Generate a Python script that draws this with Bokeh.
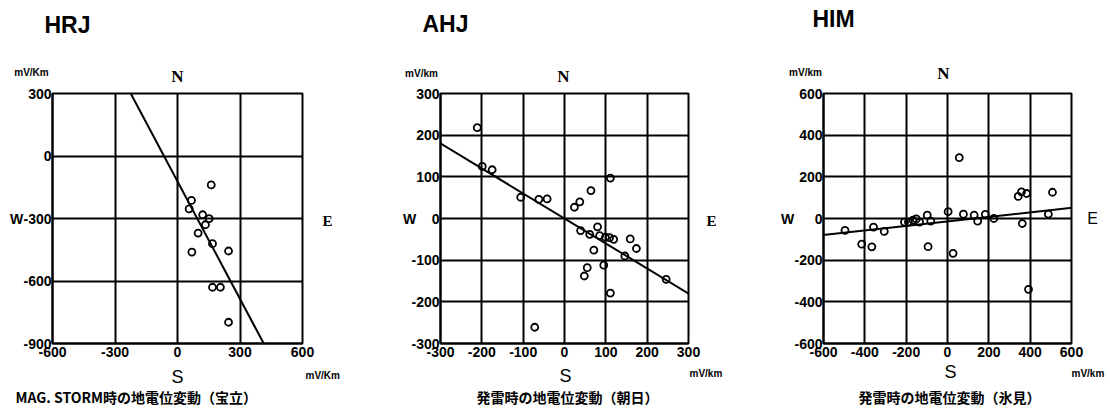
from bokeh.plotting import figure
from bokeh.layouts import row
from bokeh.models import Range1d, FixedTicker, Label, Slope
from bokeh.embed import file_html
from bokeh.resources import INLINE

# ---------------- data ----------------
# HRJ (宝立) : MAG. STORM
hrj_e = [162, 67, 56, 121, 152, 134, 99, 168, 69, 245, 168, 206, 245]
hrj_n = [-139, -213, -254, -282, -301, -330, -370, -421, -461, -456, -630, -630, -798]
hrj_slope, hrj_icpt = -1.88, -122
hrj_ticks_x = [-600, -300, 0, 300, 600]
hrj_ticks_y = [-900, -600, -300, 0, 300]

# AHJ (朝日)
ahj_e = [-211, -199, -175, -106, -62, -42, 24, 37, 64, 111, 39, 61, 80, 85, 99,
         109, 119, 159, 174, 146, 246, 71, 55, 48, 95, 111, -72]
ahj_n = [218, 125, 117, 51, 46, 47, 27, 40, 67, 97, -29, -38, -20, -41, -45,
         -46, -50, -49, -72, -90, -146, -76, -118, -138, -112, -179, -261]
ahj_slope, ahj_icpt = -0.6, 0
ahj_ticks = [-300, -200, -100, 0, 100, 200, 300]

# HIM (氷見)
him_e = [57, -496, -415, -366, -358, -306, -208, -189, -167, -151, -135, -98, -81, -94,
         3, 27, 77, 129, 146, 183, 224, 342, 358, 383, 508, 362, 488, 392]
him_n = [292, -57, -123, -136, -41, -62, -17, -17, -8, -2, -17, 16, -13, -135,
         33, -167, 21, 16, -13, 20, 0, 106, 128, 120, 126, -24, 21, -340]
him_slope, him_icpt = 0.108, -14
him_ticks = [-600, -400, -200, 0, 200, 400, 600]

TICK_FONT = "Liberation Sans"
SERIF = "Liberation Serif"
SANS = "Liberation Sans"
CJK = "Noto Sans CJK JP"

FIG_H = 408
TOP = 93
FRAME_H = 250


def make_panel(width, left, frame_w, page_x0, xr, yr, tx, ty, e, n, slope, icpt):
    right = width - left - frame_w
    p = figure(width=width, height=FIG_H, x_range=Range1d(*xr), y_range=Range1d(*yr),
               output_backend="svg", toolbar_location=None, title=None,
               min_border_left=left, min_border_right=right,
               min_border_top=TOP, min_border_bottom=FIG_H - TOP - FRAME_H)
    p.background_fill_color = "white"
    p.border_fill_color = "white"
    p.outline_line_color = "black"
    p.outline_line_width = 2
    for ax, ticks in ((p.xaxis, tx), (p.yaxis, ty)):
        ax.ticker = FixedTicker(ticks=ticks)
        ax.major_label_overrides = {t: str(t) for t in ticks}
        ax.major_tick_out = 0
        ax.major_tick_in = 0
        ax.minor_tick_out = 0
        ax.minor_tick_in = 0
        ax.axis_line_width = 2
        ax.axis_line_color = "black"
        ax.major_label_text_font = TICK_FONT
        ax.major_label_text_font_size = "14px"
        ax.major_label_text_font_style = "bold"
        ax.major_label_text_color = "black"
    p.xaxis.major_label_standoff = 3
    p.yaxis.major_label_standoff = 1
    p.xgrid.ticker = FixedTicker(ticks=tx)
    p.ygrid.ticker = FixedTicker(ticks=ty)
    for g in (p.xgrid, p.ygrid):
        g.grid_line_color = "black"
        g.grid_line_width = 2
        g.grid_line_alpha = 1.0

    p.add_layout(Slope(gradient=slope, y_intercept=icpt, line_color="black", line_width=2))
    p.scatter(e, n, size=7, marker="circle", fill_color=None, line_color="black", line_width=1.8)

    fl = page_x0 + left
    fr = fl + frame_w
    ft = TOP
    fb = ft + FRAME_H

    def lab(X, Y, text, font, size, style="normal", align="center", side="above"):
        dx = xr[0] + (X - fl) / (fr - fl) * (xr[1] - xr[0])
        dy = yr[1] - (Y - ft) / (fb - ft) * (yr[1] - yr[0])
        p.add_layout(Label(x=dx, y=dy, text=text, text_font=font, text_font_size=size,
                           text_font_style=style, text_align=align, text_baseline="middle",
                           text_color="black"), side)
    return p, lab


# Panel 1
p1, lab1 = make_panel(370, 52, 250, 0, (-600, 600), (-900, 300), hrj_ticks_x, hrj_ticks_y,
                      hrj_e, hrj_n, hrj_slope, hrj_icpt)
lab1(67, 24, "HRJ", TICK_FONT, "23px", "bold")
lab1(31, 72, "mV/Km", TICK_FONT, "10px", "bold")
lab1(177, 76, "N", SERIF, "17px", "bold")
lab1(16, 218, "W", SANS, "14px", "bold", side="left")
lab1(327, 220, "E", SERIF, "15px", "bold", side="right")
lab1(177, 376, "S", SANS, "18px", side="below")
lab1(305, 375, "mV/Km", TICK_FONT, "10px", "bold", "left")
lab1(15, 396, "MAG. STORM時の地電位変動（宝立）", CJK, "14px", "bold", "left", side="below")

# Panel 2
p2, lab2 = make_panel(390, 70, 248, 370, (-300, 300), (-300, 300), ahj_ticks, ahj_ticks,
                      ahj_e, ahj_n, ahj_slope, ahj_icpt)
lab2(445, 23, "AHJ", TICK_FONT, "23px", "bold")
lab2(421, 73, "mV/km", TICK_FONT, "10px", "bold")
lab2(563, 76, "N", SERIF, "17px", "bold")
lab2(409, 218, "W", SANS, "14px", "bold", side="left")
lab2(711, 220, "E", SERIF, "15px", "bold", side="right")
lab2(565, 375, "S", SANS, "18px", side="below")
lab2(689, 373, "mV/km", TICK_FONT, "10px", "bold", "left")
lab2(567, 396, "発雷時の地電位変動（朝日）", CJK, "14px", "bold", side="below")

# Panel 3
p3, lab3 = make_panel(350, 63, 248, 760, (-600, 600), (-600, 600), him_ticks, him_ticks,
                      him_e, him_n, him_slope, him_icpt)
lab3(833, 18, "HIM", TICK_FONT, "23px", "bold")
lab3(805, 72, "mV/km", TICK_FONT, "10px", "bold")
lab3(943, 73, "N", SERIF, "17px", "bold")
lab3(787, 218, "W", SANS, "14px", "bold", side="left")
lab3(1092, 218, "E", SANS, "16px", side="right")
lab3(950, 371, "S", SANS, "18px", side="below")
lab3(1071, 373, "mV/km", TICK_FONT, "10px", "bold", "left")
lab3(949, 396, "発雷時の地電位変動（氷見）", CJK, "14px", "bold", side="below")

layout = row(p1, p2, p3)
open("out.html", "w").write(file_html(layout, INLINE))
